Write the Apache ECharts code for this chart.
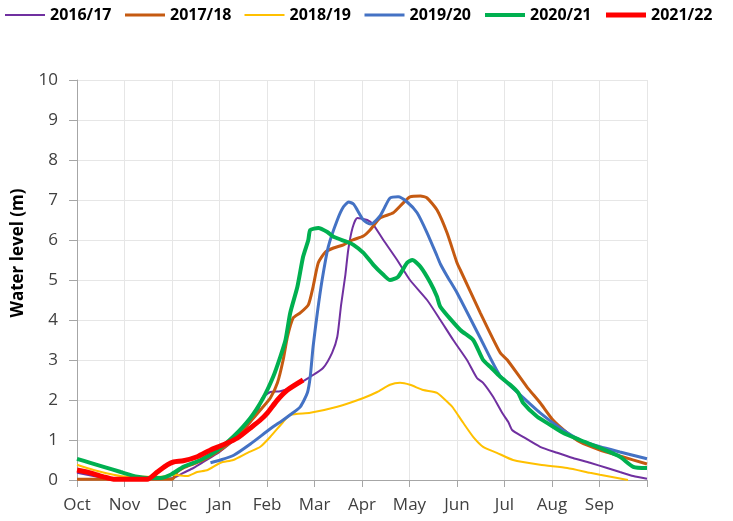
<!DOCTYPE html>
<html>
<head>
<meta charset="utf-8">
<script src="https://cdn.jsdelivr.net/npm/echarts@6/dist/echarts.min.js"></script>
<style>
  html, body { margin: 0; padding: 0; background: #fff; }
  #chart { width: 733px; height: 521px; }
</style>
</head>
<body>
<div id="chart"></div>
<script>
// water year runs Oct -> Sep, x = months since 1 Oct
const monthLabels = ['Oct', 'Nov', 'Dec', 'Jan', 'Feb', 'Mar', 'Apr', 'May', 'Jun', 'Jul', 'Aug', 'Sep']
const seasons = ['2016/17', '2017/18', '2018/19', '2019/20', '2020/21', '2021/22']

const level1617 = [
  [0, 0.18], [0.56, 0.05], [0.77, 0], [1.69, 0.02], [2.03, 0.05], [2.24, 0.18], [2.45, 0.3], [2.66, 0.45],
  [3.0, 0.7], [3.38, 1.08], [3.65, 1.45], [3.8, 1.7], [3.9, 2.05], [4.07, 2.2], [4.28, 2.22], [4.55, 2.33],
  [4.91, 2.58], [5.18, 2.8], [5.37, 3.18], [5.48, 3.58], [5.56, 4.38], [5.65, 5.13], [5.71, 5.75],
  [5.8, 6.3], [5.9, 6.55], [6.11, 6.5], [6.24, 6.38], [6.45, 6.0], [6.74, 5.5], [7.01, 5.0], [7.37, 4.5],
  [7.65, 4.0], [7.92, 3.5], [8.21, 3.0], [8.42, 2.55], [8.55, 2.43], [8.76, 2.08], [8.95, 1.68],
  [9.08, 1.45], [9.16, 1.25], [9.39, 1.08], [9.75, 0.83], [10.11, 0.68], [10.44, 0.55], [10.8, 0.43],
  [11.16, 0.3], [11.43, 0.2], [11.71, 0.1], [12, 0.03]
]
const level1718 = [
  [0, 0.02], [2.0, 0.02], [2.11, 0.2], [2.24, 0.3], [2.45, 0.4], [2.66, 0.5], [3.02, 0.75], [3.29, 1.0],
  [3.59, 1.38], [3.86, 1.75], [4.07, 2.05], [4.22, 2.43], [4.34, 3.0], [4.43, 3.58], [4.55, 4.05],
  [4.7, 4.18], [4.87, 4.38], [4.97, 4.83], [5.08, 5.43], [5.23, 5.7], [5.4, 5.8], [5.61, 5.88], [5.8, 6.0],
  [6.03, 6.1], [6.17, 6.25], [6.38, 6.55], [6.66, 6.68], [6.87, 6.93], [7.01, 7.08], [7.23, 7.1],
  [7.37, 7.05], [7.58, 6.75], [7.79, 6.18], [8.0, 5.43], [8.07, 5.25], [8.49, 4.18], [8.91, 3.18],
  [9.06, 3.0], [9.47, 2.33], [9.75, 1.93], [10.02, 1.5], [10.32, 1.18], [10.59, 0.95], [11.01, 0.75],
  [11.43, 0.6], [12, 0.4]
]
const level1819 = [
  [0, 0.38], [0.35, 0.25], [0.77, 0.13], [1.06, 0.08], [1.76, 0.08], [2.03, 0.13], [2.32, 0.1], [2.53, 0.2],
  [2.75, 0.25], [3.02, 0.43], [3.29, 0.5], [3.59, 0.68], [3.86, 0.83], [4.07, 1.08], [4.34, 1.45],
  [4.49, 1.63], [4.91, 1.68], [5.48, 1.83], [6.03, 2.05], [6.32, 2.2], [6.59, 2.38], [6.8, 2.43],
  [7.01, 2.38], [7.29, 2.25], [7.58, 2.18], [7.86, 1.88], [7.92, 1.8], [8.13, 1.43], [8.34, 1.08],
  [8.55, 0.83], [8.84, 0.68], [9.18, 0.5], [9.75, 0.38], [10.32, 0.3], [10.8, 0.18], [11.01, 0.13],
  [11.6, 0]
]
const level1920 = [
  [2.81, 0.43], [3.02, 0.5], [3.3, 0.62], [3.65, 0.9], [4.07, 1.28], [4.34, 1.5], [4.49, 1.63], [4.7, 1.83],
  [4.85, 2.18], [4.91, 2.58], [4.97, 3.33], [5.06, 4.18], [5.16, 5.0], [5.29, 5.83], [5.48, 6.5],
  [5.61, 6.83], [5.72, 6.95], [5.82, 6.9], [5.9, 6.75], [6.03, 6.5], [6.17, 6.4], [6.24, 6.43],
  [6.38, 6.6], [6.45, 6.75], [6.59, 7.05], [6.76, 7.08], [6.95, 6.95], [7.16, 6.68], [7.37, 6.18],
  [7.58, 5.6], [7.65, 5.4], [7.79, 5.1], [8.0, 4.68], [8.49, 3.55], [8.91, 2.6], [9.33, 2.13],
  [9.75, 1.68], [10.17, 1.3], [10.59, 1.0], [11.01, 0.83], [11.43, 0.7], [12, 0.53]
]
const level2021 = [
  [0, 0.53], [0.28, 0.43], [0.56, 0.33], [0.92, 0.2], [1.27, 0.08], [1.48, 0.05], [1.76, 0.05], [1.97, 0.13],
  [2.24, 0.33], [2.6, 0.5], [2.96, 0.75], [3.29, 1.08], [3.65, 1.55], [3.92, 2.05], [4.13, 2.58],
  [4.28, 3.08], [4.39, 3.5], [4.49, 4.18], [4.64, 4.83], [4.76, 5.58], [4.87, 6.0], [4.91, 6.25],
  [5.08, 6.3], [5.27, 6.2], [5.4, 6.08], [5.69, 5.95], [5.82, 5.88], [6.03, 5.68], [6.24, 5.38],
  [6.45, 5.13], [6.59, 5.0], [6.76, 5.08], [6.95, 5.43], [7.06, 5.5], [7.23, 5.33], [7.44, 4.93],
  [7.58, 4.58], [7.65, 4.33], [8.07, 3.75], [8.34, 3.5], [8.55, 3.0], [8.7, 2.83], [8.91, 2.58],
  [9.12, 2.38], [9.29, 2.18], [9.39, 1.93], [9.69, 1.58], [9.96, 1.38], [10.23, 1.18], [10.59, 1.0],
  [11.01, 0.8], [11.43, 0.58], [11.71, 0.33], [12, 0.3]
]
const level2122 = [
  [0, 0.25], [0.28, 0.18], [0.56, 0.08], [0.77, 0.02], [1.48, 0.02], [1.69, 0.2], [1.9, 0.38], [2.03, 0.45],
  [2.24, 0.48], [2.53, 0.58], [2.81, 0.75], [3.08, 0.88], [3.38, 1.05], [3.65, 1.3], [3.86, 1.5],
  [4.01, 1.68], [4.22, 2.0], [4.43, 2.25], [4.76, 2.5]
]

const levels = [level1617, level1718, level1819, level1920, level2021, level2122]
const colors = ['#7030A0', '#C55A11', '#FFC000', '#4472C4', '#00B050', '#FF0000']
const widths = [2, 3, 2, 3, 4, 5]

const font = 'Open Sans, Liberation Sans, sans-serif'

const chart = echarts.init(document.getElementById('chart'))
chart.setOption({
  backgroundColor: '#fff',
  animation: false,
  color: colors,
  legend: {
    left: 4,
    top: 7,
    width: 740,
    padding: 0,
    itemWidth: 40,
    itemHeight: 14,
    itemGap: 12,
    itemStyle: { opacity: 0 },
    textStyle: { fontFamily: font, fontWeight: 'bold', fontSize: 16, color: '#000', width: 65 },
    data: seasons.map((name, i) => ({ name: name, lineStyle: { width: widths[i] } }))
  },
  grid: { left: 77, right: 86, top: 80, bottom: 41 },
  xAxis: {
    type: 'value',
    min: 0,
    max: 12,
    interval: 1,
    axisLine: { lineStyle: { color: '#a6a6a6', width: 1 } },
    axisTick: { show: true, length: 7, lineStyle: { color: '#a6a6a6' } },
    splitLine: { show: true, lineStyle: { color: '#e6e6e6' } },
    axisLabel: {
      fontFamily: font,
      fontSize: 17,
      color: '#404040',
      margin: 17,
      formatter: v => monthLabels[v] || ''
    }
  },
  yAxis: {
    type: 'value',
    min: 0,
    max: 10,
    interval: 1,
    name: 'Water level (m)',
    nameLocation: 'middle',
    nameGap: 50,
    nameTextStyle: { fontFamily: font, fontWeight: 'bold', fontSize: 17, color: '#000', padding: [0, 0, 0, 54] },
    axisLine: { show: true, lineStyle: { color: '#a6a6a6', width: 1 } },
    axisTick: { show: true, length: 8, lineStyle: { color: '#a6a6a6' } },
    splitLine: { show: true, lineStyle: { color: '#e6e6e6' } },
    axisLabel: { fontFamily: font, fontSize: 17, color: '#404040', margin: 19 }
  },
  series: seasons.map((name, i) => ({
    name: name,
    type: 'line',
    data: levels[i],
    symbol: 'none',
    smooth: 0.2,
    lineStyle: { width: widths[i], color: colors[i] },
    z: 2 + i
  }))
})
</script>
</body>
</html>
